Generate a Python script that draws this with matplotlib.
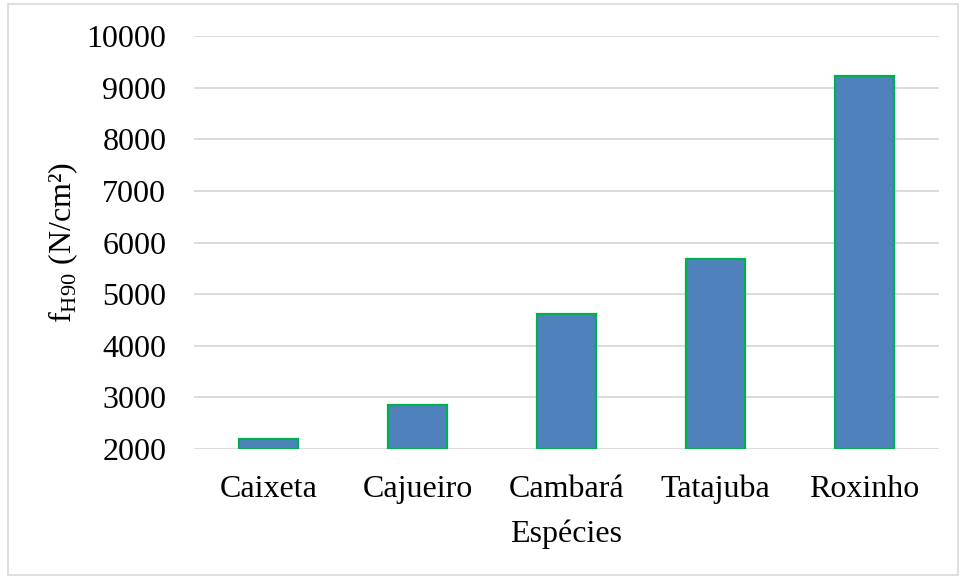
import matplotlib.pyplot as plt
from matplotlib.patches import Rectangle

# data
species = ["Caixeta", "Cajueiro", "Cambará", "Tatajuba", "Roxinho"]
fh90 = [2190, 2850, 4620, 5690, 9230]
yticks = [2000, 3000, 4000, 5000, 6000, 7000, 8000, 9000, 10000]

plt.rcParams['font.family'] = ['Liberation Serif', 'DejaVu Serif']
plt.rcParams['mathtext.fontset'] = 'custom'
plt.rcParams['mathtext.rm'] = 'Liberation Serif'

fig = plt.figure(figsize=(9.61, 5.79), dpi=100)
ax = fig.add_axes([0.202, 0.2245, 0.775, 0.713])

x = range(len(species))
ax.bar(x, [v - 2000 for v in fh90], bottom=2000, width=0.4,
       color="#4F81BD", edgecolor="#00B050", linewidth=1.6, zorder=3)

ax.set_ylim(2000, 10000)
ax.set_xlim(-0.5, len(species) - 0.5)
ax.set_yticks(yticks)
ax.set_xticks(list(x))
ax.set_xticklabels(species, va='baseline')
ax.yaxis.grid(True, color="#D9D9D9", linewidth=1.3, zorder=0)
ax.set_axisbelow(True)
for s in ax.spines.values():
    s.set_visible(False)
ax.tick_params(axis='both', length=0, labelsize=23, colors="#000000")
ax.tick_params(axis='y', pad=20)
ax.tick_params(axis='x', pad=34.5)

ax.set_xlabel("Espécies", fontsize=23, va='baseline')
ax.xaxis.set_label_coords(0.5, -0.2253)
ax.set_ylabel(r"f$_{\mathregular{H90}}$ (N/cm²)", fontsize=23, va='center')
ax.yaxis.set_label_coords(-0.176, 0.5)

# outer chart border
fig.patches.append(Rectangle((8 / 961, 4 / 579), 950 / 961, 571 / 579,
                             transform=fig.transFigure, fill=False,
                             edgecolor="#D9D9D9", linewidth=1.2))

fig.savefig("out.png", dpi=100)
